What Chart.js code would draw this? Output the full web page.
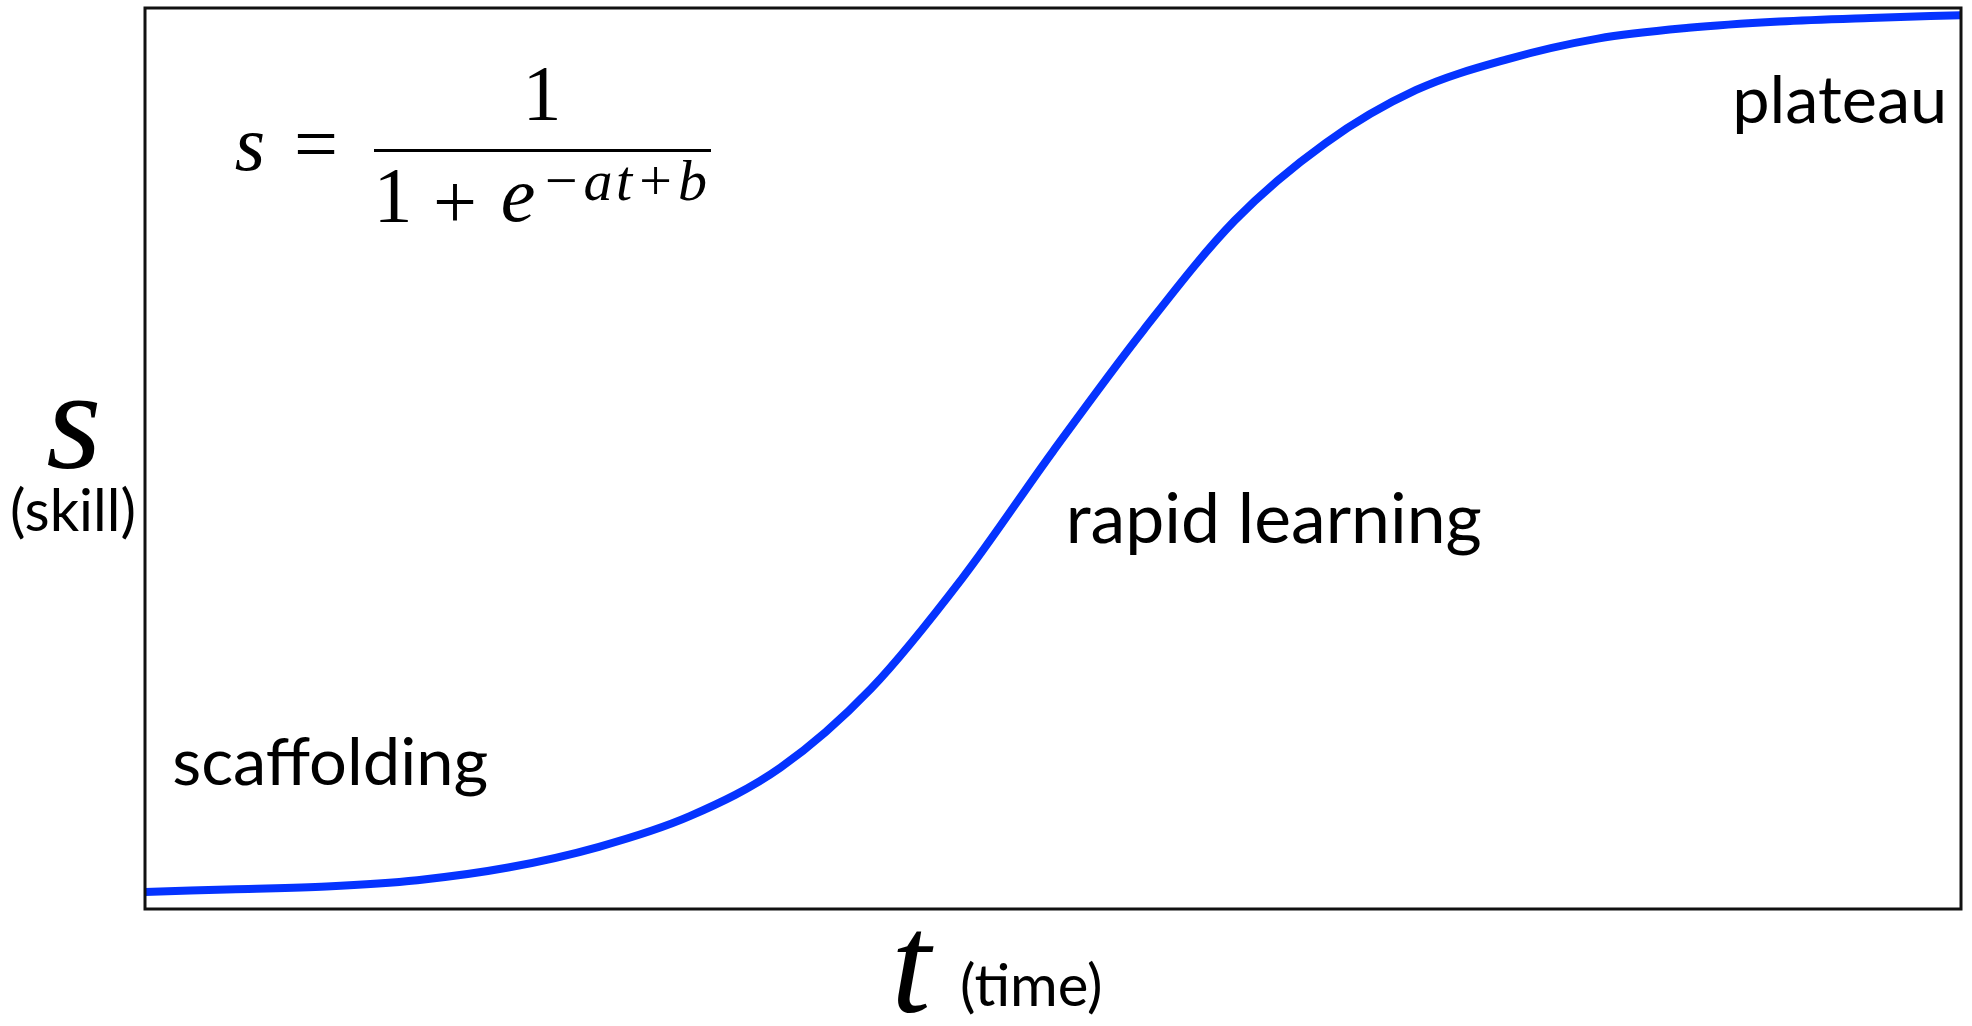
<!DOCTYPE html>
<html>
<head>
<meta charset="utf-8">
<title>Skill learning curve</title>
<script src="https://cdn.jsdelivr.net/npm/chart.js@4.4.0/dist/chart.umd.min.js"></script>
<style>
  html, body { margin: 0; padding: 0; background: #fff; }
  #chart { display: block; }
</style>
</head>
<body>
<canvas id="chart" width="1972" height="1026"></canvas>
<script>
// t (time) and s (skill), every half step of t
const timeValues = [0, 0.5, 1, 1.5, 2, 2.5, 3, 3.5, 4, 4.5, 5, 5.5, 6, 6.5, 7, 7.5, 8, 8.5, 9, 9.5, 10];
const skillValues = [0.019, 0.022, 0.025, 0.032, 0.046, 0.069, 0.103, 0.157, 0.245, 0.367, 0.508, 0.643, 0.764, 0.850, 0.909, 0.943, 0.966, 0.978, 0.985, 0.989, 0.992];
const timeRange = [0, 10];
const skillRange = [0, 1];

// phase labels (left edge / baseline in data units)
const phaseNames = ["scaffolding", "rapid learning", "plateau"];
const phaseTime = [0.15, 5.07, 8.74];
const phaseSkill = [0.138, 0.406, 0.872];

const SANS = "Lato, 'Open Sans', sans-serif";
const SERIF = "'Liberation Serif', 'DejaVu Serif', serif";

// shrink/grow a font so the text spans the given width
function fitFont(ctx, text, width, base, family) {
  ctx.font = base + "px " + family;
  const size = base * width / ctx.measureText(text).width;
  ctx.font = size.toFixed(1) + "px " + family;
}

// draws the border box, the formula and all labels
const decorations = {
  id: "decorations",
  afterDraw(chart) {
    const { ctx, chartArea, scales } = chart;
    const ox = chartArea.left;
    const oy = chartArea.top;
    ctx.save();

    // frame
    ctx.strokeStyle = "#111";
    ctx.lineWidth = 3;
    ctx.strokeRect(chartArea.left, chartArea.top,
      chartArea.right - chartArea.left, chartArea.bottom - chartArea.top);

    ctx.fillStyle = "#000";
    ctx.textAlign = "center";
    ctx.textBaseline = "alphabetic";

    // formula s = 1 / (1 + e^(-at+b))
    const big = 78;
    const glyphs = [
      ["s", 105, 162, true],
      ["=", 171, 162, false],
      ["1", 397, 111, false],
      ["1", 248, 213, false],
      ["+", 310, 220, false],
      ["e", 373, 213, true],
    ];
    glyphs.forEach(([txt, dx, dy, italic]) => {
      ctx.font = (italic ? "italic " : "") + big + "px " + SERIF;
      ctx.fillText(txt, ox + dx, oy + dy);
    });
    ctx.fillRect(ox + 229, oy + 141, 337, 3);

    // exponent, spread over its width in the original
    ctx.textAlign = "left";
    ctx.font = "italic 58px " + SERIF;
    const expo = "\u2212at+b";
    const natural = ctx.measureText(expo).width;
    ctx.letterSpacing = ((166 - natural) / (expo.length - 1)).toFixed(1) + "px";
    ctx.fillText(expo, ox + 396, oy + 192);
    ctx.letterSpacing = "0px";

    // phase labels
    const phaseWidths = [316, 416, 215];
    phaseNames.forEach((name, i) => {
      fitFont(ctx, name, phaseWidths[i], 69, SANS);
      ctx.fillText(name, scales.x.getPixelForValue(phaseTime[i]),
        scales.y.getPixelForValue(phaseSkill[i]));
    });

    // axis titles
    ctx.textAlign = "center";
    ctx.font = "italic 142px " + SERIF;
    ctx.fillText("s", 74, 468);
    ctx.font = "58px " + SANS;
    ctx.fillText("(skill)", 73, 531);

    ctx.font = "italic 142px " + SERIF;
    ctx.fillText("t", 911, 1012);
    ctx.textAlign = "left";
    ctx.font = "58px " + SANS;
    ctx.fillText("(time)", 960, 1006);

    ctx.restore();
  }
};

const points = timeValues.map((t, i) => ({ x: t, y: skillValues[i] }));

new Chart(document.getElementById("chart"), {
  type: "line",
  data: {
    datasets: [{
      data: points,
      borderColor: "#0533ff",
      borderWidth: 8,
      pointRadius: 0,
      fill: false,
      cubicInterpolationMode: "monotone",
      clip: 0,
    }],
  },
  options: {
    responsive: false,
    animation: false,
    events: [],
    layout: { padding: { left: 145, right: 11, top: 8, bottom: 117 } },
    plugins: { legend: { display: false }, tooltip: { enabled: false } },
    scales: {
      x: { type: "linear", min: timeRange[0], max: timeRange[1], display: false },
      y: { type: "linear", min: skillRange[0], max: skillRange[1], display: false },
    },
  },
  plugins: [decorations],
});
</script>
</body>
</html>
